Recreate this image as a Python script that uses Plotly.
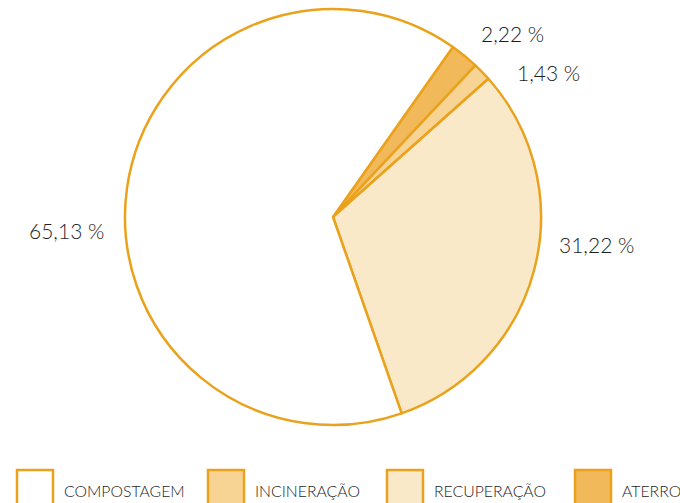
import plotly.graph_objects as go

# Data (clockwise order as drawn, starting at the ATERRO slice)
slice_labels = ["ATERRO", "INCINERAÇÃO", "RECUPERAÇÃO", "COMPOSTAGEM"]
slice_values = [2.22, 1.43, 31.22, 65.13]
slice_colors = ["#f2b95a", "#f7d394", "#fae9c9", "#ffffff"]

# Legend order as printed under the chart
legend_labels = ["COMPOSTAGEM", "INCINERAÇÃO", "RECUPERAÇÃO", "ATERRO"]

W, H = 680, 503
cx, cy, R = 333, 217, 208
edge = "#eaa21c"
font = "Lato"
txtcol = "#1e1e1e"

texts = [f"{v:.2f}".replace(".", ",") + " %" for v in slice_values]

fig = go.Figure(go.Pie(
    labels=slice_labels,
    values=slice_values,
    text=texts,
    textinfo="none",
    sort=False,
    direction="clockwise",
    rotation=35.2,
    marker=dict(colors=slice_colors, line=dict(color=edge, width=2.5)),
    showlegend=False,
    hoverinfo="label+text",
    domain=dict(x=[(cx - R) / W, (cx + R) / W], y=[1 - (cy + R) / H, 1 - (cy - R) / H]),
))

# Value labels placed outside the pie
label_pos = [(512, 33), (548, 73), (596, 244), (66, 230)]
annots = []
for t, (x, y) in zip(texts, label_pos):
    annots.append(dict(text=t, xref="paper", yref="paper", x=x / W, y=1 - y / H,
                       xanchor="center", yanchor="middle", showarrow=False,
                       font=dict(family=font, size=21, color=txtcol, weight=300)))

# Manual legend (squares + labels)
color_of = dict(zip(slice_labels, slice_colors))
leg_x = [17, 208, 387, 575]
shapes = []
for lab, x0 in zip(legend_labels, leg_x):
    shapes.append(dict(type="rect", xref="paper", yref="paper",
                       x0=x0 / W, x1=(x0 + 36) / W, y0=1 - 506 / H, y1=1 - 470 / H,
                       fillcolor=color_of[lab], line=dict(color=edge, width=2.5)))
    annots.append(dict(text=lab, xref="paper", yref="paper", x=(x0 + 45) / W, y=1 - 490 / H,
                       xanchor="left", yanchor="middle", showarrow=False,
                       font=dict(family=font, size=15.8, color=txtcol, weight=300)))

fig.update_layout(
    width=W, height=H, margin=dict(l=0, r=0, t=0, b=0),
    paper_bgcolor="white", plot_bgcolor="white",
    shapes=shapes, annotations=annots,
)
fig.write_html("out.html")
